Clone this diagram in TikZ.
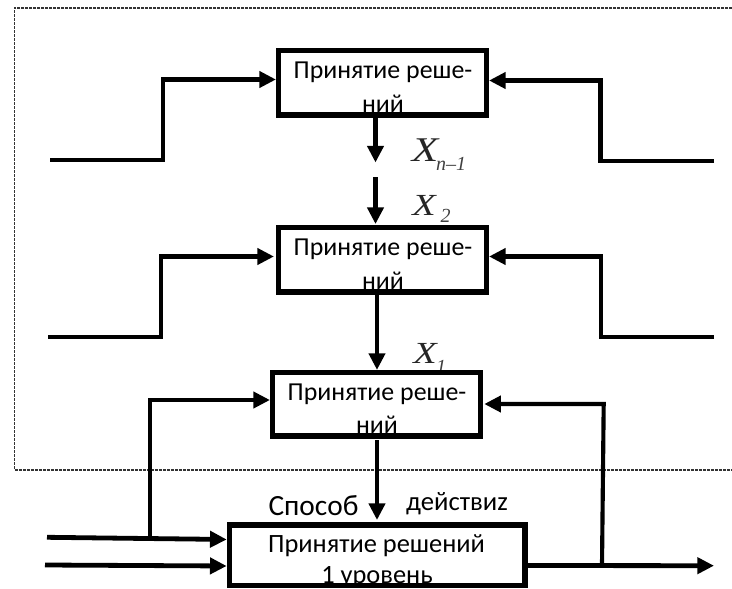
\documentclass[tikz,border=0pt]{standalone}
\usepackage{fontspec}
\setmainfont{Carlito}
\newfontfamily\tms{Liberation Serif}
\usetikzlibrary{arrows.meta}
\newcommand{\wideX}{\scalebox{1.25}[1]{X}}
\tikzset{
  x=0.75pt,y=-0.75pt,
  frameline/.style={line width=1.3pt,dash pattern=on 1.9pt off 1.1pt,black!80},
  wire/.style={line width=3.6pt,black},
  arr/.style={wire,-{Triangle[length=12.5pt,width=12pt]}},
  thinarr/.style={line width=3.1pt,black,-{Triangle[length=12.5pt,width=12pt]}},
  deck/.style={fill=white,anchor=north west,inner sep=0pt,outer sep=0pt},
  rim/.style={draw=black,line width=3.8pt,line join=miter},
  txt/.style={font=\fontsize{19.4pt}{22pt}\selectfont,inner sep=0pt,anchor=base},
  xl/.style={font=\tms\itshape\fontsize{26pt}{26pt}\selectfont,inner sep=0pt,text=black!85,anchor=base},
  xm/.style={font=\tms\itshape\fontsize{23pt}{23pt}\selectfont,inner sep=0pt,text=black!85,anchor=base},
  xs/.style={font=\tms\itshape\fontsize{15pt}{15pt}\selectfont,inner sep=0pt,text=black!75,anchor=base},
}
\newcommand{\bx}[5]{\node[deck,minimum width=#4*0.75pt,minimum height=#5*0.75pt] (#1) at (#2,#3) {};}
\newcommand{\rimof}[1]{\draw[rim] (#1.north west) rectangle (#1.south east);}
\begin{document}
\begin{tikzpicture}
\useasboundingbox (0,0) rectangle (732,589);
\clip (0,0) rectangle (732,589);
% dotted frame
\coordinate (fa) at (732,8);
\coordinate (fb) at (14.5,8);
\coordinate (fc) at (14.5,470);
\coordinate (fd) at (732,470);
\draw[frameline] (fa) -- (fb) -- (fc) -- (fd);
% subscript partly hidden under box
\node[xs] (x1s) at (441,373) {1};
% boxes
\bx{b1}{278.5}{50.5}{208}{64.5}
\bx{b2}{278.5}{227.5}{208}{64.5}
\bx{b3}{272.5}{372.2}{208.3}{63.8}
\bx{b4}{229.2}{525}{295.8}{60.5}
% box text
\node[txt] (t1a) at (383,78) {Принятие реше-};
\node[txt] (t1b) at (383,112) {ний};
\node[txt] (t2a) at (383,255) {Принятие реше-};
\node[txt] (t2b) at (383,289) {ний};
\node[txt] (t3a) at (377,400) {Принятие реше-};
\node[txt] (t3b) at (377,433.5) {ний};
\node[txt,font=\fontsize{19.8pt}{22pt}\selectfont] (t4a) at (376.5,552.7) {Принятие решений};
\node[txt,font=\fontsize{19.8pt}{22pt}\selectfont] (t4b) at (377,583.5) {1 уровень};
\rimof{b1}\rimof{b2}\rimof{b3}\rimof{b4}
% labels
\node[font=\fontsize{22pt}{24pt}\selectfont,inner sep=0pt,anchor=base] (sp) at (313.5,515) {Способ};
\node[font=\fontsize{20pt}{22pt}\selectfont,inner sep=0pt,anchor=base] (de) at (457,510) {действиz};
\node[xl] (x1) at (425,161.7) {\wideX};
\node[xs] (x1b) at (451,170) {n–1};
\node[xm] (x2) at (424,215) {\wideX};
\node[xs] (x2b) at (445.5,222.5) {2};
\node[xm] (x3) at (425,363) {\wideX};
% connectors
\coordinate (l1) at (50,160);
\coordinate (r1) at (714,161);
\coordinate (l2) at (48,337);
\coordinate (r2) at (714,337);
\draw[arr,shorten >=1.9pt] (l1) -- (163,160) -- (163,79.5) -- (b1.west |- 0,79.5);
\draw[arr,shorten >=1.9pt] (r1) -- (600.5,161) -- (600.5,80.5) -- (b1.east |- 0,80.5);
\coordinate (m1) at (375.5,177);
\coordinate (e1) at (375.5,162.5);
\draw[arr] (b1.south -| e1) -- (e1);
\draw[arr,shorten >=2.6pt] (m1) -- (b2.north -| m1);
\draw[arr,shorten >=3.4pt] (l2) -- (161,337) -- (161,256.5) -- (b2.west |- 0,256.5);
\draw[arr,shorten >=1.9pt] (r2) -- (601,337) -- (601,256.5) -- (b2.east |- 0,256.5);
\coordinate (c2) at (377,294);
\draw[arr,shorten >=1.7pt] (b2.south -| c2) -- (b3.north -| c2);
\coordinate (c3) at (377,440);
\coordinate (e3) at (377,520);
\draw[arr] (c3) -- (e3);
% bottom inputs
\coordinate (i1) at (47,537.3);
\coordinate (i2) at (45,565);
\coordinate (o1) at (714,565.7);
\coordinate (j1) at (150,538);
\coordinate (j2) at (602,565);
\draw[arr,shorten >=1.9pt] (i1) -- (b4.west |- 0,539.5);
\draw[arr,shorten >=1.9pt] (i2) -- (b4.west |- 0,566);
\draw[thinarr,shorten >=1.9pt] (j1) -- (150,400) -- (b3.west |- 0,400);
\draw[arr] (b4.east |- 0,565.5) -- (o1);
\draw[thinarr,shorten >=2.6pt] (j2) -- (603.7,404) -- (b3.east |- 0,404);
\end{tikzpicture}
\end{document}
